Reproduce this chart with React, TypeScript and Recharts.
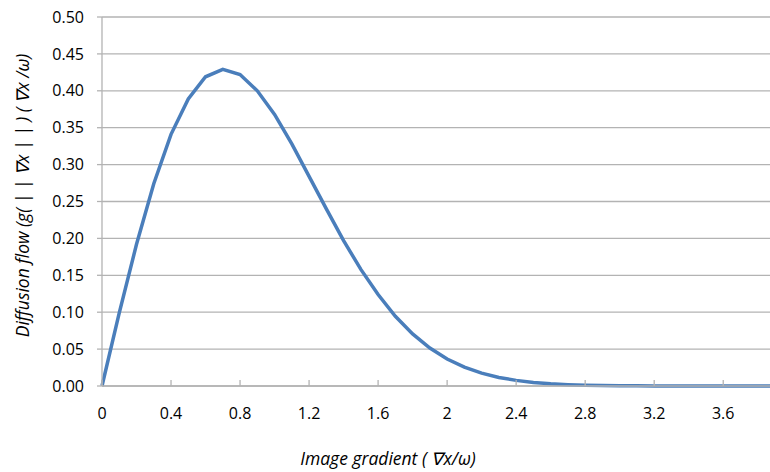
import { LineChart, Line, XAxis, YAxis, CartesianGrid, Label } from "recharts";

// ---------- Data ----------

const GRADIENT = [
    0, 0.1, 0.2, 0.3, 0.4, 0.5, 0.6, 0.7, 0.8, 0.9,
    1.0, 1.1, 1.2, 1.3, 1.4, 1.5, 1.6, 1.7, 1.8, 1.9,
    2.0, 2.1, 2.2, 2.3, 2.4, 2.5, 2.6, 2.7, 2.8, 2.9,
    3.0, 3.1, 3.2, 3.3, 3.4, 3.5, 3.6, 3.7, 3.8, 3.9,
];

const FLOW = [
    0, 0.099, 0.192, 0.274, 0.341, 0.389, 0.419, 0.429, 0.422, 0.400,
    0.368, 0.328, 0.284, 0.240, 0.197, 0.158, 0.124, 0.0945, 0.0705, 0.0514,
    0.0366, 0.0255, 0.0174, 0.0116, 0.0076, 0.0048, 0.003, 0.0018, 0.0011, 0.0006,
    0.0004, 0.0002, 0.0001, 0, 0, 0, 0, 0, 0, 0,
];

const X_TICKS = [0, 0.4, 0.8, 1.2, 1.6, 2, 2.4, 2.8, 3.2, 3.6];
const Y_TICKS = [0, 0.05, 0.1, 0.15, 0.2, 0.25, 0.3, 0.35, 0.4, 0.45, 0.5];

const data = GRADIENT.map((x, i) => ({ x, y: FLOW[i] }));

const FONT = "'Open Sans', 'Liberation Sans', sans-serif";
const GRID = "#b3b3b3";

const YTitle = (props: any) => {
    const vb = props.viewBox;
    const cx = 22;
    const cy = vb.y + vb.height / 2 - 6;
    return (
        <text
            x={cx}
            y={cy}
            transform={`rotate(-90 ${cx} ${cy})`}
            textAnchor="middle"
            dominantBaseline="central"
            fontFamily={FONT}
            fontStyle="italic"
            fontSize={17.5}
            fill="#000"
        >
            Diffusion flow (g( | | ∇x | | ) ( ∇x /ω)
        </text>
    );
};

const XTitle = (props: any) => {
    const vb = props.viewBox;
    // the title sits left of the plot centre, as in the source
    const cx = 388;
    const cy = vb.y + vb.height - 14;
    return (
        <text
            x={cx}
            y={cy}
            textAnchor="middle"
            dominantBaseline="central"
            fontFamily={FONT}
            fontStyle="italic"
            fontSize={17.5}
            fill="#000"
        >
            Image gradient ( ∇x/ω)
        </text>
    );
};

export default function App() {
    return (
        <div style={{ position: "absolute", left: 0, top: 0, width: 770, height: 472, background: "#fff", overflow: "hidden" }}>
            <LineChart
                width={770}
                height={472}
                data={data}
                margin={{ top: 17, right: -5, left: 0, bottom: 0 }}
            >
                <CartesianGrid horizontal vertical={false} stroke={GRID} strokeWidth={1.3} />
                <XAxis
                    dataKey="x"
                    type="number"
                    domain={[0, 3.9]}
                    ticks={X_TICKS}
                    interval={0}
                    height={86}
                    stroke={GRID}
                    strokeWidth={1.3}
                    tickSize={-6}
                    tickMargin={28}
                    tick={{ fontSize: 16, fill: "#000", fontFamily: FONT }}
                >
                    <Label content={XTitle} />
                </XAxis>
                <YAxis
                    type="number"
                    domain={[0, 0.5]}
                    ticks={Y_TICKS}
                    interval={0}
                    width={102}
                    stroke={GRID}
                    strokeWidth={1.3}
                    tickSize={5}
                    tickMargin={13}
                    tickFormatter={(v: number) => v.toFixed(2)}
                    tick={{ fontSize: 16, fill: "#000", fontFamily: FONT }}
                >
                    <Label content={YTitle} />
                </YAxis>
                <Line
                    type="linear"
                    dataKey="y"
                    stroke="#4a7ebb"
                    strokeWidth={3.5}
                    dot={false}
                    isAnimationActive={false}
                />
            </LineChart>
        </div>
    );
}
